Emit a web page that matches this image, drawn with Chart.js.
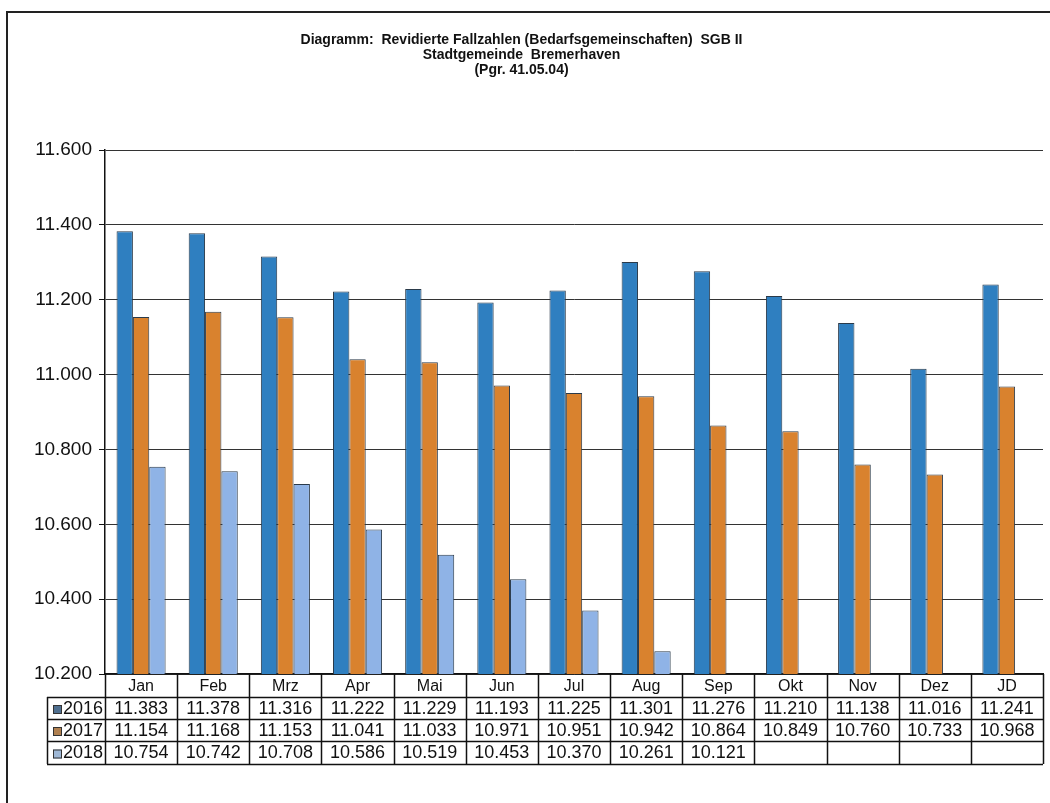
<!DOCTYPE html>
<html>
<head>
<meta charset="utf-8">
<script src="https://cdn.jsdelivr.net/npm/chart.js@4/dist/chart.umd.min.js"></script>
<style>
  html, body { margin: 0; padding: 0; background: #fff; }
  #wrap { width: 1050px; height: 803px; position: relative; }
</style>
</head>
<body>
<div id="wrap"><canvas id="c" width="1050" height="803"></canvas></div>
<script>
const categories = ['Jan','Feb','Mrz','Apr','Mai','Jun','Jul','Aug','Sep','Okt','Nov','Dez','JD'];
const seriesNames = ['2016','2017','2018'];
const values2016 = [11383, 11378, 11316, 11222, 11229, 11193, 11225, 11301, 11276, 11210, 11138, 11016, 11241];
const values2017 = [11154, 11168, 11153, 11041, 11033, 10971, 10951, 10942, 10864, 10849, 10760, 10733, 10968];
const values2018 = [10754, 10742, 10708, 10586, 10519, 10453, 10370, 10261, 10121, null, null, null, null];
const yTicks = [10200, 10400, 10600, 10800, 11000, 11200, 11400, 11600];
const titleLines = ['Diagramm:  Revidierte Fallzahlen (Bedarfsgemeinschaften)  SGB II', 'Stadtgemeinde  Bremerhaven', '(Pgr. 41.05.04)'];

const colors = ['#2f7fc0', '#d9822e', '#8fb3e6'];
const markerColors = ['#4f6f8f', '#b08050', '#9fb8d6'];
const FONT = '"Liberation Sans", Arial, sans-serif';

function fmt(v) {
  if (v === null || v === undefined) return '';
  return String(Math.round(v)).replace(/\B(?=(\d{3})+(?!\d))/g, '.');
}

const allSeries = [values2016, values2017, values2018];

const framePlugin = {
  id: 'frame',
  beforeDraw(chart) {
    const ctx = chart.ctx;
    ctx.save();
    ctx.fillStyle = '#fff';
    ctx.fillRect(0, 0, chart.width, chart.height);
    ctx.strokeStyle = '#222';
    ctx.lineWidth = 2;
    ctx.beginPath();
    ctx.moveTo(7, 803);
    ctx.lineTo(7, 12);
    ctx.lineTo(1050, 12);
    ctx.stroke();
    ctx.restore();
  }
};

const tablePlugin = {
  id: 'dataTable',
  afterDraw(chart) {
    const ctx = chart.ctx;
    const x = chart.scales.x;
    const area = chart.chartArea;
    const left = area.left, right = area.right;
    const n = categories.length;
    const cw = (right - left) / n;
    const top = area.bottom;
    const rows = [top, 697, 719, 741, 764];
    const legendLeft = 47;
    ctx.save();
    ctx.strokeStyle = '#111';
    ctx.lineWidth = 1.5;
    ctx.beginPath();
    for (let r = 1; r < rows.length; r++) {
      ctx.moveTo(legendLeft, rows[r] + 0.5);
      ctx.lineTo(right, rows[r] + 0.5);
    }
    for (let i = 0; i <= n; i++) {
      const xx = Math.round(left + i * cw) + 0.5;
      ctx.moveTo(xx, top);
      ctx.lineTo(xx, rows[rows.length - 1]);
    }
    ctx.moveTo(legendLeft + 0.5, rows[1]);
    ctx.lineTo(legendLeft + 0.5, rows[rows.length - 1]);
    ctx.stroke();

    ctx.textBaseline = 'middle';
    ctx.font = '18px ' + FONT;
    for (let s = 0; s < allSeries.length; s++) {
      const yc = (rows[s + 1] + rows[s + 2]) / 2 + 1;
      ctx.fillStyle = markerColors[s];
      ctx.fillRect(legendLeft + 6, yc - 4, 9, 9);
      ctx.strokeStyle = '#333';
      ctx.lineWidth = 1;
      ctx.strokeRect(legendLeft + 6.5, yc - 3.5, 8, 8);
      ctx.fillStyle = '#111';
      ctx.textAlign = 'left';
      ctx.fillText(seriesNames[s], legendLeft + 16, yc);
      ctx.textAlign = 'center';
      for (let i = 0; i < n; i++) {
        const cx = x.getPixelForValue(i);
        ctx.fillText(fmt(allSeries[s][i]), cx, yc);
      }
    }
    ctx.restore();
  }
};

new Chart(document.getElementById('c'), {
  type: 'bar',
  data: {
    labels: categories,
    datasets: allSeries.map((vals, s) => ({
      label: seriesNames[s],
      data: vals,
      backgroundColor: colors[s],
      borderColor: '#2a3a4a',
      borderWidth: 1,
      categoryPercentage: 0.68,
      barPercentage: 1.0
    }))
  },
  options: {
    responsive: false,
    animation: false,
    events: [],
    layout: { padding: { left: 0, right: 7, top: 0, bottom: 107 } },
    plugins: {
      legend: { display: false },
      tooltip: { enabled: false },
      title: {
        display: true,
        text: titleLines,
        color: '#111',
        font: { family: FONT, size: 14, weight: 'bold', lineHeight: 1.05 },
        padding: { top: 33, bottom: 73 }
      }
    },
    scales: {
      x: {
        grid: { display: false, drawTicks: false, tickLength: 0 },
        border: { display: true, color: '#111', width: 1.5 },
        ticks: {
          color: '#111',
          font: { family: FONT, size: 16 },
          padding: 3,
          maxRotation: 0,
          autoSkip: false
        },
        afterFit(scale) { scale.height = 22; }
      },
      y: {
        min: 10200,
        max: 11600,
        afterBuildTicks(scale) { scale.ticks = yTicks.map(v => ({ value: v })); },
        grid: { color: '#333', lineWidth: 1, drawTicks: true, tickLength: 6, tickColor: '#111' },
        border: { display: true, color: '#111', width: 1.5 },
        ticks: {
          color: '#111',
          font: { family: FONT, size: 19 },
          padding: 7,
          callback: (v) => fmt(v)
        },
        afterFit(scale) { scale.width = 105; }
      }
    }
  },
  plugins: [framePlugin, tablePlugin]
});
</script>
</body>
</html>
